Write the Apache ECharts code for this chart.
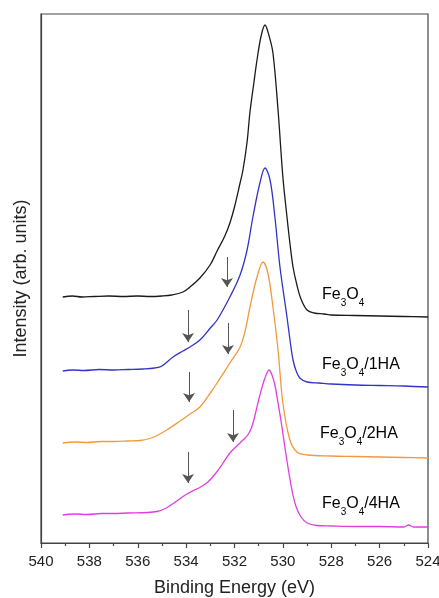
<!DOCTYPE html>
<html><head><meta charset="utf-8">
<script src="https://cdn.jsdelivr.net/npm/echarts@6/dist/echarts.min.js"></script>
<style>html,body{margin:0;padding:0;background:#fff}#c{width:439px;height:598px}</style>
</head><body><div id="c"></div>
<script>
// Binding energy (eV) and intensity (arb. units, stacked offsets as drawn)
const fe3o4E = [539.1,538.7,538.3,537.8,537.2,536.6,536.0,535.5,535.0,534.6,534.13,533.84,533.43,533.01,532.72,532.4,532.19,532.0,531.77,531.65,531.48,531.36,531.2,531.07,530.9,530.74,530.58,530.41,530.2,530.0,529.83,529.71,529.58,529.42,529.25,529.0,528.7,528.3,528.0,527.0,526.0,525.0,524.0];
const fe3o4I = [246,247,246,246.5,247,246.5,247,246.5,247,248,251,256,265,278,292,307,320,336,360,373,401,431,460,483,507,518,508,490,433,366,326,300,276,258,244,233,230,229,228,227.5,227,226.5,226];

const ha1E = [539.1,538.7,538.2,537.6,537.0,536.4,535.8,535.3,535.0,534.54,534.13,533.84,533.43,533.0,532.72,532.19,531.77,531.48,531.24,530.95,530.74,530.53,530.33,530.12,529.83,529.7,529.58,529.45,529.3,529.0,528.5,528.0,527.0,526.0,525.0,524.0];
const ha1I = [172,173,172.5,173.5,173,173.5,174,175,177,186,192,196,203,215,223,246,268,293,326,360,375,363,326,276,226,202,183,172,165,161,160,159,158,157.5,157,156];

const ha2E = [539.1,538.6,538.1,537.5,537.0,536.4,535.9,535.5,535.2,534.8,534.25,533.84,533.43,533.0,532.72,532.19,531.77,531.55,531.36,531.07,530.82,530.62,530.41,530.2,530.0,529.71,529.42,529.0,528.0,527.0,526.0,525.0,524.0];
const ha2I = [100,101,100.5,101.5,101.5,102,102.5,104.5,107.5,113,122,129,136,150,160,180,196,213,236,266,281,270,236,193,140,103,91,88,87,86.5,86,85.5,85];

const ha4E = [539.1,538.6,538.1,537.5,537.0,536.4,535.6,535.2,534.9,534.6,534.3,534.0,533.7,533.4,533.1,532.8,532.5,532.19,531.9,531.65,531.48,531.3,531.15,530.95,530.74,530.57,530.45,530.33,530.2,530.05,529.9,529.75,529.6,529.45,529.25,529.0,528.6,528.0,527.0,526.0,525.0,524.8,524.6,524.0];
const ha4I = [28,29,28.5,29.5,29.5,30,30.5,31.5,34,38.5,43.5,48.5,52.5,56,61,69,79,90,97,103,107,115,128,148,165,173,168,158,140,118,93,70,50,36,26,20,17.5,17,16.5,16.5,16,18,16,16];

// Arrows marking shoulders: energy, start intensity, tip intensity
const arrowE = [532.31,533.92,532.27,533.88,532.06,533.92];
const arrowTop = [286,233,220,171,133,91];
const arrowTip = [256,201,189,141,101,60];

const xTicks = [540,538,536,534,532,530,528,526,524];
const seriesNames = ['Fe3O4','Fe3O4/1HA','Fe3O4/2HA','Fe3O4/4HA'];

const zip = (a,b) => a.map((v,i)=>[v,b[i]]);
const colors = ['#1a1a1a','#3333c8','#f09a3c','#e03ee0'];
const allE = [fe3o4E, ha1E, ha2E, ha4E];
const allI = [fe3o4I, ha1I, ha2I, ha4I];

const font = 'Liberation Sans, Arial, sans-serif';
const chart = echarts.init(document.getElementById('c'), null, {renderer:'canvas'});

const lineSeries = allE.map((E,k)=>({
  type:'line', name: seriesNames[k], data: zip(E, allI[k]), showSymbol:false, symbol:'none',
  smooth:0.35, lineStyle:{color:colors[k], width:1.3}, itemStyle:{color:colors[k]}, z:3, animation:false
}));

const arrowSeries = {
  type:'lines', coordinateSystem:'cartesian2d', animation:false, z:4,
  symbol:['none','arrow'], symbolSize:[6,9],
  lineStyle:{color:'#555', width:1, opacity:1},
  data: arrowE.map((e,i)=>({coords:[[e, arrowTop[i]],[e, arrowTip[i]]]}))
};

function labelRich(suffix){
  return '{m|Fe}{s|3}{m|O}{s|4}' + (suffix ? '{m|' + suffix + '}' : '');
}
const richStyle = {
  m:{fontSize:16, fontFamily:font, color:'#222', lineHeight:21, verticalAlign:'top'},
  s:{fontSize:10, fontFamily:font, color:'#222', lineHeight:21, verticalAlign:'bottom'}
};
const labels = [['',322,287],['/1HA',322,357],['/2HA',320,426],['/4HA',322,496]];

chart.setOption({
  animation:false,
  grid:{left:41, right:11, top:14, bottom:55, show:true, borderColor:'#444', borderWidth:1.2, outerBoundsMode:'none', containLabel:false},
  xAxis:{
    type:'value', min:524, max:540, interval:2, inverse:true,
    axisLine:{show:true, lineStyle:{color:'#444', width:1.2}},
    axisTick:{show:true, inside:false, length:5, lineStyle:{color:'#444', width:1.2}},
    minorTick:{show:true, splitNumber:2, length:3, lineStyle:{color:'#444', width:1.2}},
    splitLine:{show:false},
    axisLabel:{color:'#222', fontSize:15, fontFamily:font, margin:11,
      formatter:(v)=> xTicks.includes(v) ? String(v) : ''},
    name:'Binding Energy (eV)', nameLocation:'middle', nameGap:36,
    nameTextStyle:{color:'#222', fontSize:18, fontFamily:font}
  },
  yAxis:{
    type:'value', min:0, max:529,
    axisLine:{show:true, lineStyle:{color:'#444', width:1.2}},
    axisTick:{show:false}, axisLabel:{show:false}, splitLine:{show:false},
    name:'Intensity (arb. units)', nameLocation:'middle', nameGap:11,
    nameTextStyle:{color:'#222', fontSize:18, fontFamily:font}
  },
  series: lineSeries.concat([arrowSeries]),
  graphic: labels.map(l=>({
    type:'text', left:l[1], top:l[2], z:10,
    style:{text:labelRich(l[0]), rich:richStyle}
  }))
});
</script></body></html>
